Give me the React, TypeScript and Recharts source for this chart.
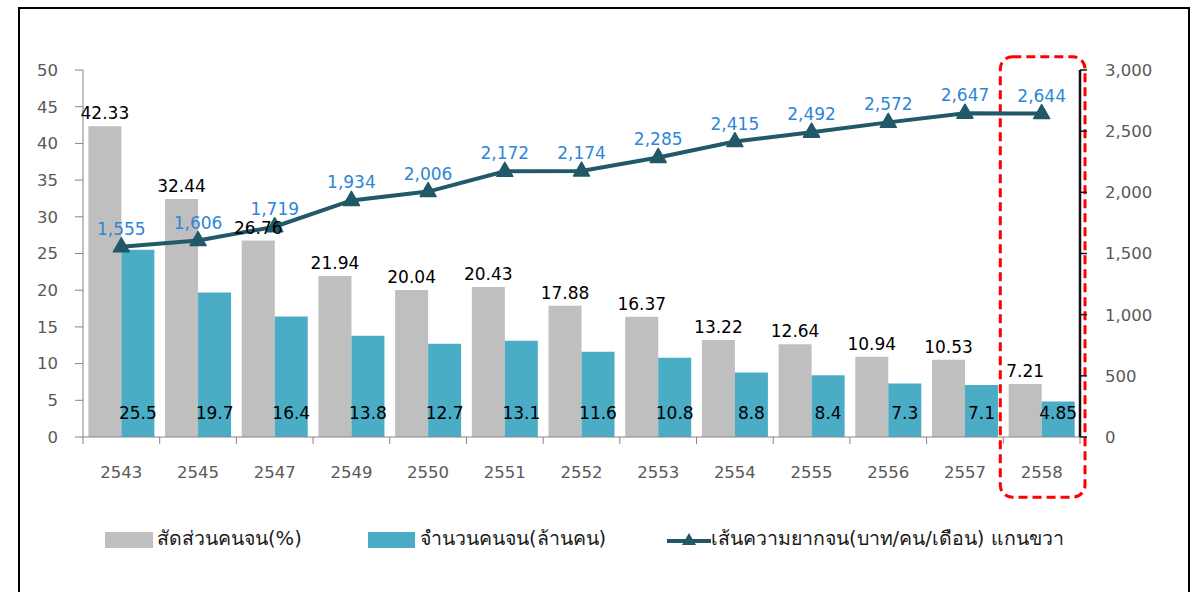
import React from 'react';
import { ComposedChart, Bar, Line, XAxis, YAxis, LabelList, ReferenceArea } from 'recharts';

const years = ['2543', '2545', '2547', '2549', '2550', '2551', '2552', '2553', '2554', '2555', '2556', '2557', '2558'];
const povertyRatio = [42.33, 32.44, 26.76, 21.94, 20.04, 20.43, 17.88, 16.37, 13.22, 12.64, 10.94, 10.53, 7.21];
const poorCount = [25.5, 19.7, 16.4, 13.8, 12.7, 13.1, 11.6, 10.8, 8.8, 8.4, 7.3, 7.1, 4.85];
const povertyLine = [1555, 1606, 1719, 1934, 2006, 2172, 2174, 2285, 2415, 2492, 2572, 2647, 2644];
const leftTicks = [0, 5, 10, 15, 20, 25, 30, 35, 40, 45, 50];
const rightTicks = [0, 500, 1000, 1500, 2000, 2500, 3000];
const legendLabels = ['สัดส่วนคนจน(%)', 'จำนวนคนจน(ล้านคน)', 'เส้นความยากจน(บาท/คน/เดือน) แกนขวา'];

const data = years.map((year, i) => ({
  year,
  ratio: povertyRatio[i],
  count: poorCount[i],
  line: povertyLine[i],
}));

const GREY = '#BFBFBF';
const TEAL = '#4BACC6';
const DARK = '#215968';
const BLUE = '#2E86D6';
const FONT = "Tahoma, 'DejaVu Sans', sans-serif";

const W = 1199;
const H = 520;
const margin = { top: 70, right: 39, bottom: 43, left: 23 };
const LEFT_W = 60;
const RIGHT_W = 80;
const plotW = W - margin.left - margin.right - LEFT_W - RIGHT_W;
const step = plotW / years.length;

const XTick = (props: any) => {
  const { x, y, payload, index } = props;
  return (
    <g>
      {index === 0 && <line x1={x - step / 2} x2={x - step / 2} y1={y} y2={y + 7} stroke="#868686" />}
      <line x1={x + step / 2} x2={x + step / 2} y1={y} y2={y + 7} stroke="#868686" />
      <text x={x} y={y + 35} textAnchor="middle" dominantBaseline="central" fill="#595959" fontSize={16.5} fontFamily={FONT}>
        {payload.value}
      </text>
    </g>
  );
};

const Triangle = (props: any) => {
  const { cx, cy } = props;
  if (cx == null || cy == null) return null;
  return (
    <path
      d={`M${cx},${cy - 9} L${cx + 8},${cy + 5} L${cx - 8},${cy + 5} Z`}
      fill={DARK}
      stroke={DARK}
      strokeWidth={1.5}
      strokeLinejoin="round"
    />
  );
};

const BottomLabel = (props: any) => {
  const vb = props.viewBox ?? props;
  const { x, y, width, height } = vb;
  return (
    <text x={x + width / 2} y={y + height - 24} textAnchor="middle" dominantBaseline="central" fontSize={17} fill="#000" fontFamily={FONT}>
      {props.value}
    </text>
  );
};

const DashedBox = (props: any) => {
  const { x, y, width, height } = props;
  return (
    <rect
      x={x - 3}
      y={y}
      width={width + 8}
      height={height}
      rx={12}
      ry={12}
      fill="none"
      stroke="#FF0000"
      strokeWidth={3}
      strokeDasharray="9 5"
    />
  );
};

const legendText: React.CSSProperties = {
  position: 'absolute',
  top: 525,
  fontSize: 19.5,
  color: '#1a1a1a',
  lineHeight: '28px',
  whiteSpace: 'nowrap',
};

export default function App() {
  return (
    <div style={{ position: 'fixed', left: 0, top: 0, width: 1199, height: 592, overflow: 'hidden', background: '#fff', fontFamily: FONT }}>
      <div style={{ position: 'absolute', left: 18, top: 7, width: 1168, height: 640, border: '2.5px solid #000' }} />
      <div style={{ position: 'absolute', left: 0, top: 0 }}>
        <ComposedChart width={W} height={H} data={data} margin={margin} barCategoryGap="7%" barGap={0} style={{ fontFamily: FONT }}>
          <XAxis
            dataKey="year"
            xAxisId="x"
            height={40}
            tickSize={0}
            tickMargin={0}
            tickLine={false}
            axisLine={{ stroke: '#868686' }}
            tick={<XTick />}
            interval={0}
          />
          <YAxis
            yAxisId="left"
            width={LEFT_W}
            domain={[0, 50]}
            ticks={leftTicks}
            tickSize={8}
            tickMargin={17}
            axisLine={{ stroke: '#868686' }}
            tickLine={{ stroke: '#868686' }}
            tick={{ fill: '#595959', fontSize: 16.5 }}
          />
          <YAxis
            yAxisId="right"
            orientation="right"
            width={RIGHT_W}
            domain={[0, 3000]}
            ticks={rightTicks}
            tickSize={7}
            tickMargin={18}
            axisLine={{ stroke: '#111', strokeWidth: 2.5 }}
            tickLine={{ stroke: '#111', strokeWidth: 1.5 }}
            tick={{ fill: '#595959', fontSize: 16.5 }}
            tickFormatter={(v: number) => v.toLocaleString('en-US')}
          />
          <Bar dataKey="ratio" xAxisId="x" yAxisId="left" fill={GREY} isAnimationActive={false}>
            <LabelList dataKey="ratio" position="top" offset={7} fill="#000" fontSize={17} fontFamily={FONT} />
          </Bar>
          <Bar dataKey="count" xAxisId="x" yAxisId="left" fill={TEAL} isAnimationActive={false}>
            <LabelList dataKey="count" content={<BottomLabel />} />
          </Bar>
          <Line
            dataKey="line"
            xAxisId="x"
            yAxisId="right"
            stroke={DARK}
            strokeWidth={4}
            dot={<Triangle />}
            activeDot={false}
            isAnimationActive={false}
          >
            <LabelList
              dataKey="line"
              position="top"
              offset={12}
              fill={BLUE}
              fontSize={17}
              fontFamily={FONT}
              formatter={(v: any) => Number(v).toLocaleString('en-US')}
            />
          </Line>
          <ReferenceArea
            xAxisId="x"
            yAxisId="left"
            x1="2558"
            x2="2558"
            y1={-8.2}
            y2={51.8}
            ifOverflow="visible"
            shape={<DashedBox />}
          />
        </ComposedChart>
      </div>
      <div style={{ position: 'absolute', left: 105, top: 532, width: 48, height: 16, background: GREY }} />
      <div style={{ ...legendText, left: 157 }}>{legendLabels[0]}</div>
      <div style={{ position: 'absolute', left: 368, top: 532, width: 47, height: 16, background: TEAL }} />
      <div style={{ ...legendText, left: 420 }}>{legendLabels[1]}</div>
      <svg style={{ position: 'absolute', left: 665, top: 530 }} width={48} height={20}>
        <line x1={2} x2={46} y1={11} y2={11} stroke={DARK} strokeWidth={4} />
        <path d="M24,3 L31,15 L17,15 Z" fill={DARK} />
      </svg>
      <div style={{ ...legendText, left: 711 }}>{legendLabels[2]}</div>
    </div>
  );
}
